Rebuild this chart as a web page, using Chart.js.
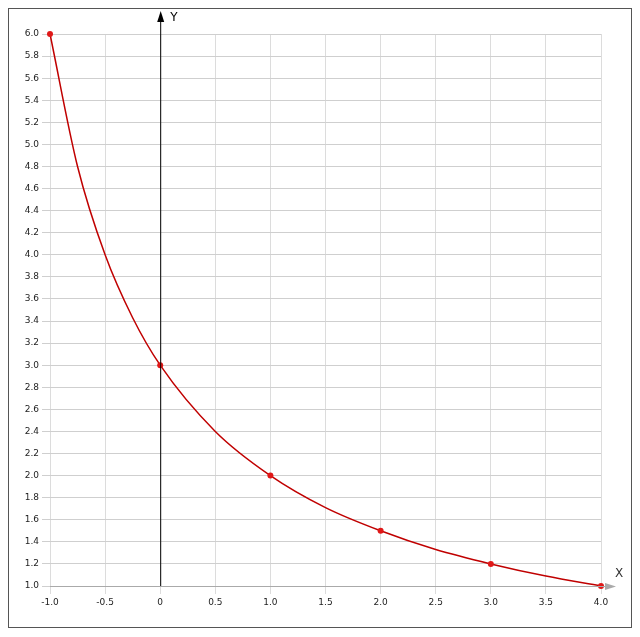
<!DOCTYPE html>
<html>
<head>
<meta charset="utf-8">
<script src="https://cdn.jsdelivr.net/npm/chart.js@4"></script>
<style>
  html, body { margin: 0; padding: 0; background: #fff; }
  #wrap { width: 640px; height: 637px; }
</style>
</head>
<body>
<div id="wrap"><canvas id="c"></canvas></div>
<script>
// Values
const xValues = [-1, -0.75, -0.5, -0.25, 0, 0.5, 1, 1.5, 2, 2.5, 3, 3.5, 4];
const yValues = [6.0, 4.8, 4.0, 3.43, 3.0, 2.4, 2.0, 1.71, 1.5, 1.33, 1.2, 1.09, 1.0];
const markedX = [-1, 0, 1, 2, 3, 4];

const points = xValues.map((x, i) => ({ x: x, y: yValues[i] }));

// Axes with arrows, labels and the outer frame
const axesPlugin = {
  id: 'axes',
  afterDraw(chart) {
    const ctx = chart.ctx;
    const xs = chart.scales.x, ys = chart.scales.y;
    const x0 = xs.getPixelForValue(0);
    const yb = ys.getPixelForValue(1);
    ctx.save();
    // Y axis
    ctx.strokeStyle = '#000'; ctx.fillStyle = '#000'; ctx.lineWidth = 1;
    ctx.beginPath(); ctx.moveTo(x0 + 0.5, yb); ctx.lineTo(x0 + 0.5, 16); ctx.stroke();
    ctx.beginPath(); ctx.moveTo(x0 + 0.5, 11); ctx.lineTo(x0 - 3, 22); ctx.lineTo(x0 + 4, 22); ctx.closePath(); ctx.fill();
    ctx.font = '12px "DejaVu Sans"';
    ctx.fillText('Y', x0 + 10, 21);
    // X axis
    ctx.strokeStyle = '#aaa'; ctx.fillStyle = '#aaa';
    ctx.beginPath(); ctx.moveTo(xs.left, yb + 0.5); ctx.lineTo(610, yb + 0.5); ctx.stroke();
    ctx.beginPath(); ctx.moveTo(616, yb + 0.5); ctx.lineTo(605, yb - 3); ctx.lineTo(605, yb + 4); ctx.closePath(); ctx.fill();
    ctx.fillStyle = '#333';
    ctx.fillText('X', 615, 577);
    // frame
    ctx.strokeStyle = '#555'; ctx.lineWidth = 1;
    ctx.strokeRect(8.5, 8.5, 623, 619);
    ctx.restore();
  }
};

new Chart(document.getElementById('c'), {
  type: 'scatter',
  data: {
    datasets: [{
      data: points,
      showLine: true,
      clip: false,
      borderColor: '#c00000',
      backgroundColor: '#e01818',
      pointBorderColor: '#e01818',
      pointBorderWidth: 0,
      borderWidth: 1.5,
      cubicInterpolationMode: 'monotone',
      pointRadius: ctx => (markedX.includes(xValues[ctx.dataIndex]) ? 3 : 0),
      pointHoverRadius: 3
    }]
  },
  options: {
    responsive: true,
    maintainAspectRatio: false,
    animation: false,
    layout: { padding: { top: 34, right: 39, left: 6, bottom: 30 } },
    plugins: { legend: { display: false }, tooltip: { enabled: false } },
    scales: {
      x: {
        type: 'linear', min: -1, max: 4,
        afterFit: s => { s.height = 21; },
        border: { display: false },
        grid: { color: '#dcdcdc' },
        ticks: {
          stepSize: 0.5, color: '#222', maxRotation: 0,
          font: { family: 'DejaVu Sans', size: 9 },
          callback: v => (Math.abs(v) < 1e-9 ? '0' : v.toFixed(1))
        }
      },
      y: {
        type: 'linear', min: 1, max: 6,
        afterFit: s => { s.width = 44; },
        border: { display: false },
        grid: { color: '#cfcfcf' },
        ticks: {
          stepSize: 0.2, color: '#222', autoSkip: false,
          font: { family: 'DejaVu Sans', size: 9 },
          callback: v => v.toFixed(1)
        }
      }
    }
  },
  plugins: [axesPlugin]
});
</script>
</body>
</html>
